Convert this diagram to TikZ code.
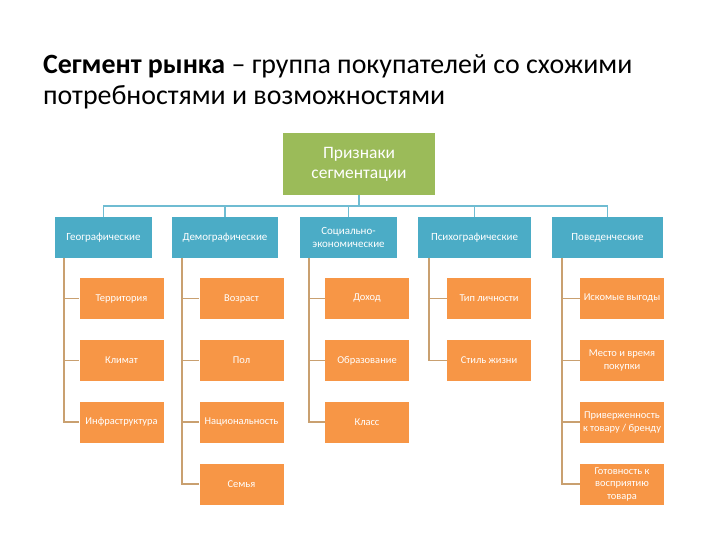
\documentclass[tikz,border=0pt]{standalone}
\usepackage{fontspec}
\setmainfont{Carlito}
\usetikzlibrary{positioning}
\definecolor{rootgreen}{HTML}{9BBB59}
\definecolor{grpblue}{HTML}{4BACC6}
\definecolor{itemorange}{HTML}{F79646}
\definecolor{linkblue}{HTML}{6FBCD2}
\definecolor{subtan}{HTML}{C9A070}

\tikzset{
  root/.style={fill=rootgreen, text=white, minimum width=152bp, minimum height=62bp,
    align=center, font=\fontsize{17.5}{20}\selectfont},
  grp/.style={fill=grpblue, text=white, minimum height=41bp, inner sep=1bp,
    align=center, font=\fontsize{11}{12.5}\selectfont},
  item/.style={fill=itemorange, text=white, minimum width=84bp, minimum height=41bp,
    inner sep=1bp, align=center, font=\fontsize{10.5}{12.5}\selectfont},
  link/.style={draw=linkblue, line width=1.6bp},
  sub/.style={draw=subtan, line width=1.8bp},
}

\begin{document}
\begin{tikzpicture}[x=1bp, y=-1bp, node distance=20.5bp]
  \useasboundingbox (0,0) rectangle (720,540);

  \node[anchor=base west, align=left, inner sep=0pt,
        font=\fontsize{28}{32}\selectfont] (title) at (43,105)
    {\textbf{Сегмент рынка} – группа покупателей со схожими\\потребностями и возможностями};

  \node[root] (root) at (359,164) {Признаки\\сегментации};

  \node[grp, minimum width=97bp] (geo) at (103.5,237.5) {Географические};
  \node[grp, minimum width=106bp] (dem) at (225,237.5) {Демографические};
  \node[grp, minimum width=97bp] (soc) at (348.5,237.5) {Социально-\\экономические};
  \node[grp, minimum width=113bp] (psy) at (474.5,237.5) {Психографические};
  \node[grp, minimum width=111bp] (beh) at (607.5,237.5) {Поведенческие};

  % географические
  \node[item] (ter) at (121.5,298.5) {Территория};
  \node[item, below=of ter] (kli) {Климат};
  \node[item, below=of kli] (inf) {Инфраструктура};

  % демографические
  \node[item] (age) at (241.5,298.5) {Возраст};
  \node[item, below=of age] (sex) {Пол};
  \node[item, below=of sex] (nat) {Национальность};
  \node[item, below=of nat] (fam) {Семья};

  % социально-экономические
  \node[item] (inc) at (367,298.5) {Доход};
  \node[item, below=of inc] (edu) {Образование};
  \node[item, below=of edu] (cls) {Класс};

  % психографические
  \node[item] (per) at (489,298.5) {Тип личности};
  \node[item, below=of per] (lif) {Стиль жизни};

  % поведенческие
  \node[item] (ben) at (622,298.5) {Искомые выгоды};
  \node[item, below=of ben] (tim) {Место и время\\покупки};
  \node[item, below=of tim] (loy) {Приверженность\\к товару / бренду};
  \node[item, below=of loy] (rdy) {Готовность к\\восприятию\\товара};

  % верхние связи
  \draw[link] (root.south) -- ++(0,11);
  \draw[link] (geo.north) -- ++(0,-11) -| (beh.north);
  \foreach \g in {dem,soc,psy}
    \draw[link] (\g.north) -- ++(0,-11);

  % нижние связи
  \foreach \i in {ter,kli,inf}
    \draw[sub] ([xshift=9bp]geo.south west) |- (\i.west);
  \foreach \i in {age,sex,nat,fam}
    \draw[sub] ([xshift=10bp]dem.south west) |- (\i.west);
  \foreach \i in {inc,edu,cls}
    \draw[sub] ([xshift=9bp]soc.south west) |- (\i.west);
  \foreach \i in {per,lif}
    \draw[sub] ([xshift=11bp]psy.south west) |- (\i.west);
  \foreach \i in {ben,tim,loy,rdy}
    \draw[sub] ([xshift=10bp]beh.south west) |- (\i.west);
\end{tikzpicture}
\end{document}
